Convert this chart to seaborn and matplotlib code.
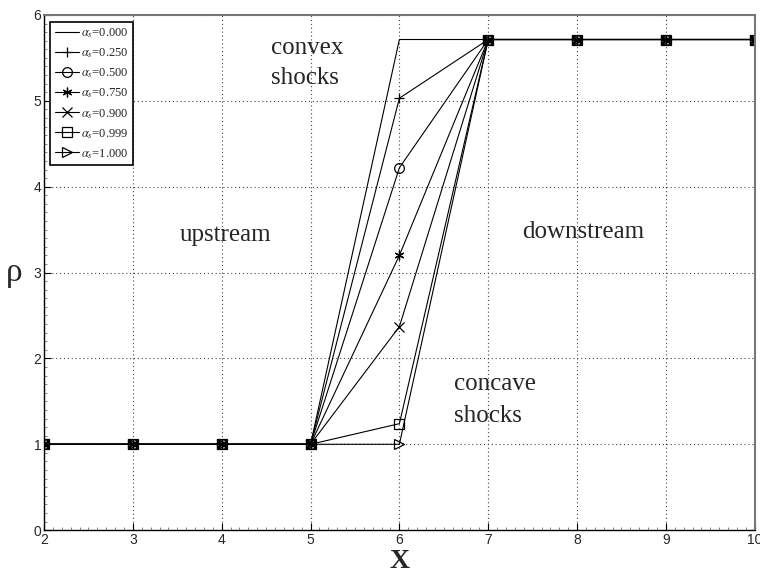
import numpy as np
import pandas as pd
import matplotlib
matplotlib.use("Agg")
import matplotlib.pyplot as plt
from matplotlib.ticker import MultipleLocator
import seaborn as sns

# ---- data ----
x_vals = [1, 2, 3, 4, 5, 6, 7, 8, 9, 10]
alpha_labels = ["0.000", "0.250", "0.500", "0.750", "0.900", "0.999", "1.000"]
rho_at_6 = [5.714, 5.03, 4.22, 3.20, 2.37, 1.24, 1.00]
rho_upstream = 1.0
rho_downstream = 5.714
markers = [None, "+", "o", (6, 2, 0), "x", "s", ">"]

rows = []
for lab, r6 in zip(alpha_labels, rho_at_6):
    for xv in x_vals:
        if xv <= 5:
            rv = rho_upstream
        elif xv == 6:
            rv = r6
        else:
            rv = rho_downstream
        rows.append({"x": xv, "rho": rv, "alpha": lab})
df = pd.DataFrame(rows)

sns.set_theme(style="white")
plt.rcParams["mathtext.fontset"] = "stix"
fig = plt.figure(figsize=(7.6, 5.75), dpi=100)
ax = fig.add_axes([0.058, 0.078, 0.935, 0.896])

for lab, m in zip(alpha_labels, markers):
    sub = df[df["alpha"] == lab]
    kw = dict(marker=m, markersize=7, markerfacecolor="none",
              markeredgecolor="black", markeredgewidth=0.9) if m else dict(marker=None)
    sns.lineplot(data=sub, x="x", y="rho", ax=ax, color="black", linewidth=0.8,
                 label=r"$\alpha_{s}$" + "=" + lab, legend=False, **kw)

ax.set_xlim(2, 10)
ax.set_ylim(0, 6)
ax.xaxis.set_major_locator(MultipleLocator(1))
ax.yaxis.set_major_locator(MultipleLocator(1))
ax.xaxis.set_minor_locator(MultipleLocator(0.1))
ax.yaxis.set_minor_locator(MultipleLocator(0.1))
ax.tick_params(which="major", direction="in", length=5, width=0.8, color="black",
               labelsize=10, pad=2, bottom=True, left=True)
ax.tick_params(which="minor", direction="in", length=2, width=0.5, color="#555555",
               bottom=True, left=True)
for t in ax.get_xticklabels() + ax.get_yticklabels():
    t.set_fontfamily("Liberation Sans")
ax.grid(True, which="major", linestyle=(0, (1, 2.5)), color="#444444", linewidth=0.8)

for side in ["left", "bottom"]:
    ax.spines[side].set_color("black")
    ax.spines[side].set_linewidth(1.0)
for side in ["top", "right"]:
    ax.spines[side].set_color("#777777")
    ax.spines[side].set_linewidth(1.5)

serif = "Liberation Serif"
ax.set_xlabel("X", fontfamily=serif, fontsize=20, fontweight="bold")
ax.xaxis.set_label_coords(0.5, -0.037)
ax.xaxis.label.set_va("top")
ax.set_ylabel("ρ", fontfamily=serif, fontsize=24, rotation=0)
ax.yaxis.set_label_coords(-0.042, 0.47)

ax.text(4.56, 5.74, "convex\nshocks", fontfamily=serif, fontsize=18, va="top",
        ha="left", linespacing=1.45)
ax.text(4.04, 3.44, "upstream", fontfamily=serif, fontsize=18, ha="center", va="center")
ax.text(8.07, 3.47, "downstream", fontfamily=serif, fontsize=18, ha="center", va="center")
ax.text(6.62, 1.52, "concave\nshocks", fontfamily=serif, fontsize=18, ha="left",
        va="center", linespacing=1.6)

leg = ax.legend(loc="upper left", bbox_to_anchor=(0.009, 0.986), frameon=True,
                fancybox=False, edgecolor="black", framealpha=1,
                prop={"family": serif, "size": 9}, handlelength=1.9,
                handletextpad=0.2, labelspacing=0.5, borderpad=0.35,
                borderaxespad=0)
leg.get_frame().set_linewidth(1.2)

fig.savefig("out.png", dpi=100)
